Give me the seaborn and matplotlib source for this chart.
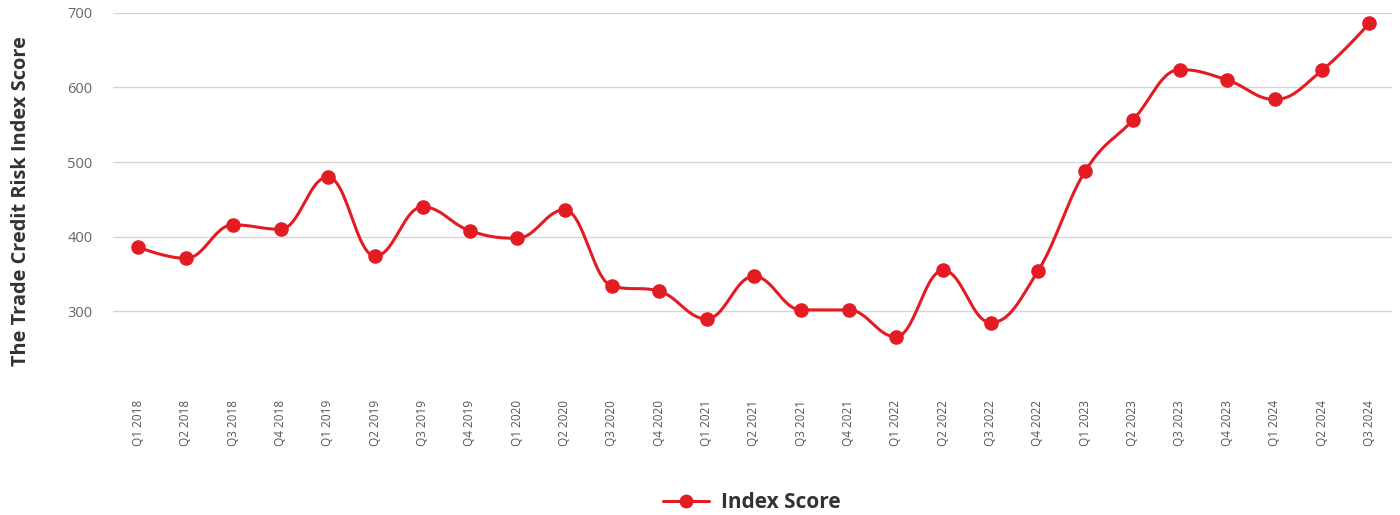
import numpy as np
import pandas as pd
import matplotlib
matplotlib.use("Agg")
import matplotlib.pyplot as plt
from matplotlib.lines import Line2D
import seaborn as sns

quarters = [
    "Q1 2018", "Q2 2018", "Q3 2018", "Q4 2018",
    "Q1 2019", "Q2 2019", "Q3 2019", "Q4 2019",
    "Q1 2020", "Q2 2020", "Q3 2020", "Q4 2020",
    "Q1 2021", "Q2 2021", "Q3 2021", "Q4 2021",
    "Q1 2022", "Q2 2022", "Q3 2022", "Q4 2022",
    "Q1 2023", "Q2 2023", "Q3 2023", "Q4 2023",
    "Q1 2024", "Q2 2024", "Q3 2024",
]
index_score = [
    386, 371, 416, 410,
    480, 374, 440, 408,
    398, 436, 334, 327,
    290, 347, 302, 302,
    266, 355, 285, 354,
    488, 556, 624, 610,
    584, 623, 686,
]
y_ticks = [300, 400, 500, 600, 700]

RED = "#e31b23"

sns.set_theme(style="white")
plt.rcParams["font.family"] = ["Open Sans", "DejaVu Sans"]


def spline_curve(xs, ys, smoothing=1.5, steps=30):
    # smooth path through the points, bezier controls like a chart spline
    n = len(xs)
    left = [None] * n
    right = [None] * n
    for i in range(n):
        x, y = xs[i], ys[i]
        if i == 0 or i == n - 1:
            left[i] = (x, y)
            right[i] = (x, y)
            continue
        d = smoothing + 1
        lx = (smoothing * x + xs[i - 1]) / d
        ly = (smoothing * y + ys[i - 1]) / d
        rx = (smoothing * x + xs[i + 1]) / d
        ry = (smoothing * y + ys[i + 1]) / d
        corr = (ry - ly) * (rx - x) / (rx - lx) + y - ry
        ly += corr
        ry += corr
        if ly > y and ly > ys[i - 1]:
            ly = max(y, ys[i - 1])
            ry = 2 * y - ly
        elif ly < y and ly < ys[i - 1]:
            ly = min(y, ys[i - 1])
            ry = 2 * y - ly
        if ry > y and ry > ys[i + 1]:
            ry = max(y, ys[i + 1])
            ly = 2 * y - ry
        elif ry < y and ry < ys[i + 1]:
            ry = min(y, ys[i + 1])
            ly = 2 * y - ry
        left[i] = (lx, ly)
        right[i] = (rx, ry)
    px, py = [], []
    t = np.linspace(0, 1, steps)
    for i in range(1, n):
        p0 = np.array([xs[i - 1], ys[i - 1]])
        p1 = np.array(right[i - 1])
        p2 = np.array(left[i])
        p3 = np.array([xs[i], ys[i]])
        seg = (
            ((1 - t) ** 3)[:, None] * p0
            + (3 * (1 - t) ** 2 * t)[:, None] * p1
            + (3 * (1 - t) * t ** 2)[:, None] * p2
            + (t ** 3)[:, None] * p3
        )
        px.extend(seg[:, 0])
        py.extend(seg[:, 1])
    return np.array(px), np.array(py)


pos = np.arange(len(quarters))
cx, cy = spline_curve(list(pos), index_score)
curve = pd.DataFrame({"x": cx, "y": cy})
points = pd.DataFrame({"x": pos, "y": index_score})

fig = plt.figure(figsize=(14, 5.15), dpi=100)
ax = fig.add_axes([0.081, 0.2505, 0.913, 0.7245])

sns.lineplot(data=curve, x="x", y="y", ax=ax, color=RED,
             linewidth=2.2, sort=False, estimator=None)
sns.scatterplot(data=points, x="x", y="y", ax=ax, color=RED,
                s=110, edgecolor=RED, linewidth=0, zorder=3)

ax.set_xlim(-0.53, 26.47)
ax.set_ylim(200, 700)
ax.set_yticks(y_ticks)
ax.set_xticks(pos)
ax.set_xticklabels(quarters, rotation=90, fontsize=8.5, color="#555555")
ax.tick_params(axis="y", labelsize=10.5, labelcolor="#666666", length=0, pad=15)
ax.tick_params(axis="x", length=0, pad=10)

ax.grid(axis="y", color="#d6d6d6", linewidth=1)
ax.grid(axis="x", visible=False)
for side in ["top", "right", "left", "bottom"]:
    ax.spines[side].set_visible(False)

ax.set_xlabel("")
ax.set_ylabel("")
fig.text(0.008, 0.61, "The Trade Credit Risk Index Score", rotation=90,
         ha="left", va="center", fontsize=14.4, fontweight="bold",
         color="#333333")

handle = Line2D([], [], color=RED, linewidth=2.2, marker="o",
                markersize=10, markeredgewidth=0)
fig.legend([handle], ["Index Score"], loc="center",
           bbox_to_anchor=(0.537, 0.024), frameon=False,
           prop={"size": 15, "weight": "bold"}, handlelength=2.2,
           handletextpad=0.6, labelcolor="#333333")

fig.savefig("out.png", dpi=100)
